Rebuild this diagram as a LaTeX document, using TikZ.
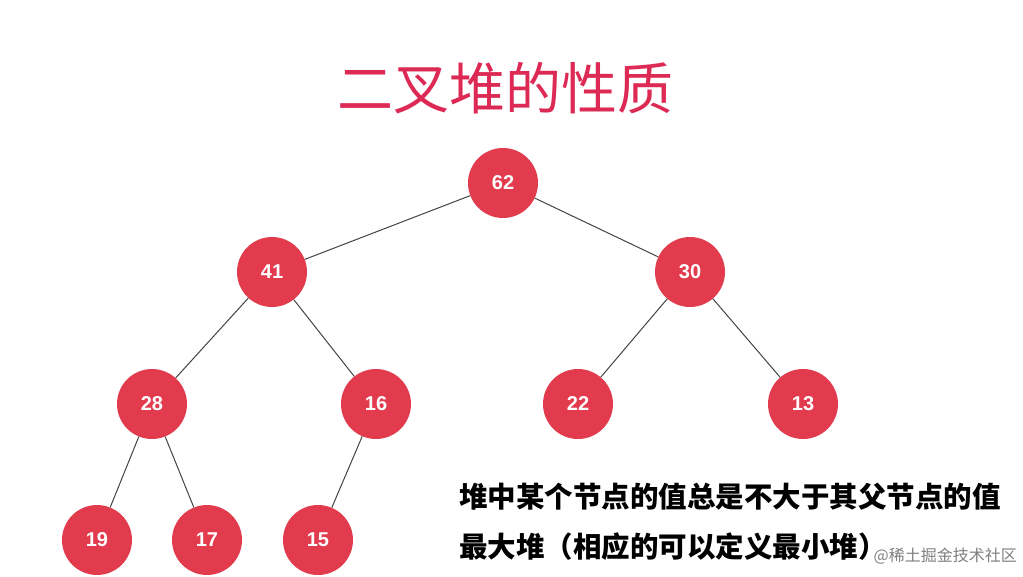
\documentclass[tikz,border=0pt]{standalone}
\usepackage{fontspec}
\setsansfont{Liberation Sans}
\newfontfamily\cjk{Noto Sans CJK SC}
\definecolor{nodered}{HTML}{E33B4E}
\definecolor{titlered}{HTML}{DD2A55}
\definecolor{edgegray}{HTML}{444444}
\begin{document}
\begin{tikzpicture}[x=1pt,y=-1pt,
  heapnode/.style={circle,fill=nodered,minimum size=70pt,inner sep=0pt,
    text=white,font=\sffamily\bfseries\fontsize{20}{22}\selectfont},
  edge/.style={draw=edgegray,line width=1pt}]
\useasboundingbox[fill=white] (0,0) rectangle (1023,576);
\node[text=titlered,font=\cjk\fontsize{56}{62}\selectfont] (title) at (505,88) {二叉堆的性质};
\node[heapnode] (n62) at (503,183) {62};
\node[heapnode] (n41) at (272,272) {41};
\node[heapnode] (n30) at (690,272) {30};
\node[heapnode] (n28) at (152,404) {28};
\node[heapnode] (n16) at (376,404) {16};
\node[heapnode] (n22) at (578,404) {22};
\node[heapnode] (n13) at (803,404) {13};
\node[heapnode] (n19) at (97,540) {19};
\node[heapnode] (n17) at (207,540) {17};
\node[heapnode] (n15) at (318,540) {15};
\foreach \a/\b in {n62/n41,n62/n30,n41/n28,n41/n16,n30/n22,n30/n13,n28/n19,n28/n17,n16/n15}
  \draw[edge] (\a) -- (\b);
\node[anchor=west,font=\cjk\bfseries\fontsize{28.5}{31}\selectfont,inner sep=0pt] (prop) at (459,497) {堆中某个节点的值总是不大于其父节点的值};
\node[anchor=west,font=\cjk\bfseries\fontsize{28.5}{31}\selectfont,inner sep=0pt] (maxheap) at (459,547) {最大堆（相应的可以定义最小堆）};
\node[anchor=east,text=gray,font=\cjk\fontsize{16}{18}\selectfont,inner sep=0pt] (wm) at (1017,556) {@稀土掘金技术社区};
\end{tikzpicture}
\end{document}
